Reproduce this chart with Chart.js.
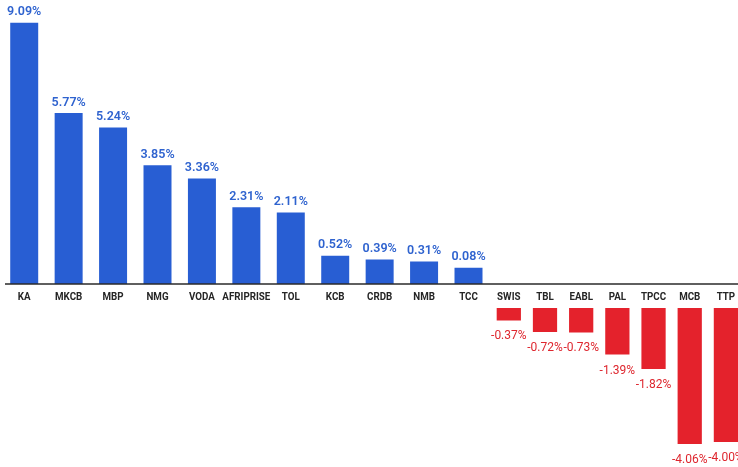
<!DOCTYPE html>
<html>
<head>
<meta charset="utf-8">
<script src="https://cdn.jsdelivr.net/npm/chart.js@4"></script>
<style>
  html, body { margin: 0; padding: 0; background: #fff; overflow: hidden; }
  /* the last bar runs off the right edge of the picture */
  #wrap { width: 744px; height: 467px; position: relative; }
</style>
</head>
<body>
<div id="wrap"><canvas id="chart"></canvas></div>
<script>
// Weekly movers, % change
const gainers = ['KA', 'MKCB', 'MBP', 'NMG', 'VODA', 'AFRIPRISE', 'TOL', 'KCB', 'CRDB', 'NMB', 'TCC'];
const gainerValues = [9.09, 5.77, 5.24, 3.85, 3.36, 2.31, 2.11, 0.52, 0.39, 0.31, 0.08];
const losers = ['SWIS', 'TBL', 'EABL', 'PAL', 'TPCC', 'MCB', 'TTP'];
const loserValues = [-0.37, -0.72, -0.73, -1.39, -1.82, -4.06, -4.00];

const BLUE = 'rgb(40, 94, 211)';
const BLUE_TEXT = 'rgb(47, 99, 207)';
const RED = 'rgb(228, 34, 44)';
const RED_TEXT = 'rgb(222, 38, 46)';

// scale set-up (chart area is the full 467px canvas height)
const H = 467;
const UP_ZERO_PX = 284, UP_PX = 27.2, UP_BASE = -14 / 27.2;   // gainers axis
const DN_ZERO_PX = 308, DN_PX = 33.5;                          // losers axis

const annotate = {
    id: 'annotate',
    afterDatasetsDraw(chart) {
        const ctx = chart.ctx;
        const xUp = chart.scales.xUp, xDn = chart.scales.xDn;
        const zeroY = chart.scales.yUp.getPixelForValue(UP_BASE);
        ctx.save();

        // zero line
        ctx.strokeStyle = '#2a2a2a';
        ctx.lineWidth = 1.5;
        ctx.beginPath();
        ctx.moveTo(5, zeroY);
        ctx.lineTo(chart.width, zeroY);
        ctx.stroke();

        // ticker names, squeezed a little
        ctx.fillStyle = '#262626';
        ctx.font = 'bold 11.5px "Liberation Sans Narrow", "Roboto", sans-serif';
        ctx.textAlign = 'center';
        ctx.textBaseline = 'middle';
        const drawName = (txt, x) => {
            ctx.save();
            ctx.translate(x, zeroY + 13);
            ctx.scale(0.85, 1);
            ctx.fillText(txt, 0, 0);
            ctx.restore();
        };
        gainers.forEach((g, i) => drawName(g, xUp.getPixelForValue(i)));
        losers.forEach((l, i) => drawName(l, xDn.getPixelForValue(i)));

        // value labels
        ctx.fillStyle = BLUE_TEXT;
        ctx.font = '600 12.5px "Roboto", sans-serif';
        ctx.textBaseline = 'alphabetic';
        chart.getDatasetMeta(0).data.forEach((bar, i) => {
            ctx.fillText(gainerValues[i].toFixed(2) + '%', bar.x, bar.y - 7.5);
        });
        ctx.fillStyle = RED_TEXT;
        ctx.font = '12px "Liberation Sans Narrow", "Roboto", sans-serif';
        ctx.textBaseline = 'middle';
        chart.getDatasetMeta(1).data.forEach((bar, i) => {
            ctx.fillText(loserValues[i].toFixed(2) + '%', bar.x, bar.y + 16);
        });
        ctx.restore();
    }
};

new Chart(document.getElementById('chart'), {
    type: 'bar',
    data: {
        datasets: [{
            data: gainerValues,
            xAxisID: 'xUp',
            yAxisID: 'yUp',
            base: UP_BASE,
            backgroundColor: BLUE,
            grouped: false,
            barPercentage: 0.63,
            categoryPercentage: 1
        }, {
            data: loserValues,
            xAxisID: 'xDn',
            yAxisID: 'yDn',
            backgroundColor: RED,
            grouped: false,
            barPercentage: 0.67,
            categoryPercentage: 1
        }]
    },
    options: {
        responsive: true,
        maintainAspectRatio: false,
        animation: false,
        layout: { padding: { left: 2, right: 0, top: 0, bottom: 0 } },
        plugins: { legend: { display: false }, tooltip: { enabled: false } },
        scales: {
            xUp: { type: 'category', labels: gainers, position: 'bottom', stack: 'row', stackWeight: 11 * 44.45, display: false },
            xDn: { type: 'category', labels: losers, position: 'bottom', stack: 'row', stackWeight: 7 * 36.2, display: false },
            yUp: {
                display: false,
                min: UP_BASE - (H - UP_ZERO_PX) / UP_PX,
                max: UP_BASE + UP_ZERO_PX / UP_PX
            },
            yDn: {
                display: false,
                min: -(H - DN_ZERO_PX) / DN_PX,
                max: DN_ZERO_PX / DN_PX
            }
        }
    },
    plugins: [annotate]
});
</script>
</body>
</html>
